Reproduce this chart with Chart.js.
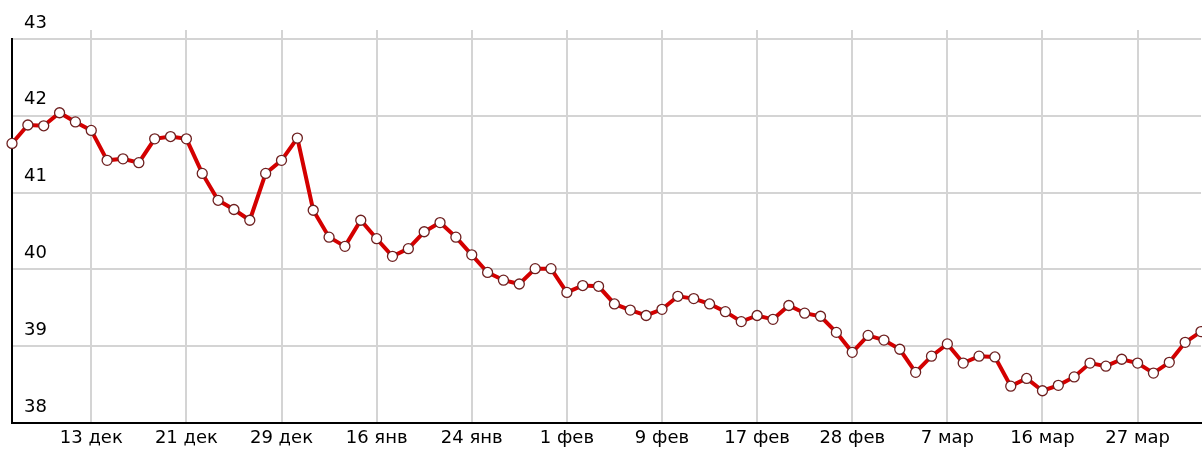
<!DOCTYPE html>
<html>
<head>
<meta charset="utf-8">
<script src="https://cdn.jsdelivr.net/npm/chart.js@4/dist/chart.umd.min.js"></script>
<style>
html,body{margin:0;padding:0;background:#fff;overflow:hidden;}
#wrap{width:1202px;height:450px;position:relative;}
</style>
</head>
<body>
<div id="wrap"><canvas id="c" width="1202" height="450"></canvas></div>
<script>
// Tick labels on the x axis (every 6th observation)
const tickLabels = ['13 дек','21 дек','29 дек','16 янв','24 янв','1 фев','9 фев','17 фев','28 фев','7 мар','16 мар','27 мар'];
const firstLabelIndex = 5;
const labelStep = 6;

// Series values (one per observation)
const values = [
  41.64, 41.88, 41.87, 42.04, 41.92, 41.81, 41.42, 41.44, 41.39, 41.70, 41.73, 41.70,
  41.25, 40.90, 40.78, 40.64, 41.25, 41.42, 41.71, 40.77, 40.42, 40.30, 40.64, 40.40,
  40.17, 40.27, 40.49, 40.61, 40.42, 40.19, 39.96, 39.86, 39.81, 40.01, 40.01, 39.70,
  39.79, 39.78, 39.55, 39.47, 39.40, 39.48, 39.65, 39.62, 39.55, 39.45, 39.32, 39.40,
  39.35, 39.53, 39.43, 39.39, 39.18, 38.92, 39.14, 39.08, 38.96, 38.66, 38.87, 39.03,
  38.78, 38.87, 38.86, 38.48, 38.58, 38.42, 38.49, 38.60, 38.78, 38.74, 38.83, 38.78,
  38.65, 38.79, 39.05, 39.19
];

// Y axis range
const yMin = 38, yMax = 43;

const categories = values.map((v, i) => {
  const k = (i - firstLabelIndex) / labelStep;
  return (Number.isInteger(k) && k >= 0 && k < tickLabels.length) ? tickLabels[k] : '';
});

const FONT = {family: '"DejaVu Sans", Verdana, sans-serif', size: 18};
const GRID = '#d4d4d4';

// short extension of the vertical grid lines above the plot top
const gridStubs = {
  id: 'gridStubs',
  beforeDatasetsDraw(chart) {
    const {ctx, chartArea, scales: {x}} = chart;
    ctx.save();
    ctx.strokeStyle = GRID;
    ctx.lineWidth = 2;
    x.ticks.forEach((t, i) => {
      if (!t.label) return;
      const px = Math.round(x.getPixelForTick(i));
      ctx.beginPath();
      ctx.moveTo(px, chartArea.top - 9);
      ctx.lineTo(px, chartArea.top);
      ctx.stroke();
    });
    ctx.restore();
  }
};

new Chart(document.getElementById('c'), {
  type: 'line',
  data: {
    labels: categories,
    datasets: [{
      data: values,
      borderColor: '#d40000',
      borderWidth: 4,
      tension: 0,
      pointRadius: 5,
      pointBackgroundColor: '#ffffff',
      pointBorderColor: '#6e2020',
      pointBorderWidth: 1.3,
      clip: 8
    }]
  },
  plugins: [gridStubs],
  options: {
    responsive: false,
    animation: false,
    devicePixelRatio: 1,
    layout: {autoPadding: false, padding: {top: 39, left: 0, right: 1, bottom: 0}},
    plugins: {legend: {display: false}, tooltip: {enabled: false}, title: {display: false}},
    scales: {
      x: {
        type: 'category',
        offset: false,
        afterFit: s => { s.height = 27; s.paddingRight = 0; s.paddingLeft = 0; },
        border: {display: true, color: '#000', width: 2},
        grid: {
          drawTicks: false,
          lineWidth: 2,
          color: ctx => (ctx.tick && ctx.tick.label) ? GRID : 'rgba(0,0,0,0)'
        },
        ticks: {
          autoSkip: false,
          maxRotation: 0,
          padding: 5,
          color: '#000',
          font: FONT
        }
      },
      y: {
        min: yMin,
        max: yMax,
        afterFit: s => { s.width = 12; },
        border: {display: true, color: '#000', width: 2},
        grid: {drawTicks: false, lineWidth: 2, color: GRID},
        ticks: {
          stepSize: 1,
          mirror: true,
          padding: 12,
          labelOffset: -16,
          color: '#000',
          font: FONT
        }
      }
    }
  }
});
</script>
</body>
</html>
